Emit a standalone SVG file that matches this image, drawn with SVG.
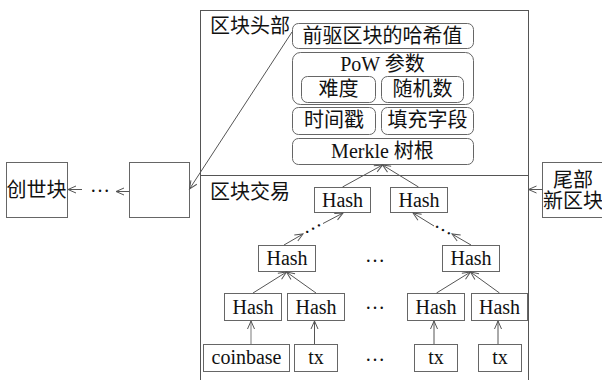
<svg xmlns="http://www.w3.org/2000/svg" width="602" height="380" viewBox="0 0 602 380">
<style>
text{font-family:"Liberation Serif","Noto Sans CJK SC",serif;font-size:20px;fill:#111;text-anchor:middle}
.l{text-anchor:start}
.box{fill:#fff;stroke:#666;stroke-width:1}
.rb{fill:#fff;stroke:#666;stroke-width:1}
.c{stroke:#555;stroke-width:1;fill:none}
.cg{stroke:#999;stroke-width:1.3;fill:none}
</style>
<defs>
<marker id="a" markerUnits="userSpaceOnUse" markerWidth="12" markerHeight="10" viewBox="-10 -5 12 10" refX="0" refY="0" orient="auto">
<path d="M-8,-3.5 L0,0 L-8,3.5" fill="none" stroke="#555" stroke-width="1"/>
</marker>
</defs>
<g id="block">
<rect x="200.5" y="10.5" width="328" height="380" fill="none" stroke="#555"/>
<line x1="200" y1="175.5" x2="528" y2="175.5" stroke="#555"/>
<text class="l" x="210" y="33">区块头部</text>
<text class="l" x="210" y="199">区块交易</text>
</g>
<g id="genesis">
<rect class="box" x="6.5" y="162.5" width="61" height="55"/>
<text x="36.5" y="197">创世块</text>
</g>
<g id="prev">
<rect class="box" x="129.5" y="162.5" width="60" height="55"/>
</g>
<g id="tail">
<rect class="box" x="542.5" y="162.5" width="62" height="55"/>
<text x="573" y="187">尾部</text>
<text x="573" y="208">新区块</text>
</g>
<g id="prevhash">
<rect class="rb" x="292.5" y="23.5" width="181" height="25" rx="6"/>
<text x="382.5" y="43">前驱区块的哈希值</text>
</g>
<g id="pow">
<rect class="rb" x="292.5" y="52.5" width="181" height="52" rx="8"/>
<text x="382.5" y="71">PoW 参数</text>
</g>
<g id="difficulty">
<rect class="rb" x="301.5" y="76.5" width="74" height="26" rx="6"/>
<text x="338.5" y="96">难度</text>
</g>
<g id="nonce">
<rect class="rb" x="381.5" y="76.5" width="82" height="26" rx="6"/>
<text x="422.5" y="96">随机数</text>
</g>
<g id="timestamp">
<rect class="rb" x="292.5" y="107.5" width="83" height="27" rx="6"/>
<text x="334" y="127">时间戳</text>
</g>
<g id="padding">
<rect class="rb" x="381.5" y="107.5" width="92" height="27" rx="6"/>
<text x="427.5" y="127">填充字段</text>
</g>
<g id="merkle">
<rect class="rb" x="292.5" y="138.5" width="181" height="26" rx="6"/>
<text x="382.5" y="158">Merkle 树根</text>
</g>
<g id="h1a"><rect class="box" x="314.5" y="187.5" width="56" height="25"/><text x="342.5" y="207">Hash</text></g>
<g id="h1b"><rect class="box" x="390.5" y="187.5" width="57" height="25"/><text x="419" y="207">Hash</text></g>
<g id="h2a"><rect class="box" x="258.5" y="245.5" width="57" height="26"/><text x="287" y="265">Hash</text></g>
<g id="h2b"><rect class="box" x="442.5" y="245.5" width="57" height="26"/><text x="471" y="265">Hash</text></g>
<g id="h3a"><rect class="box" x="224.5" y="293.5" width="57" height="27"/><text x="253" y="313.5">Hash</text></g>
<g id="h3b"><rect class="box" x="287.5" y="293.5" width="57" height="27"/><text x="316" y="313.5">Hash</text></g>
<g id="h3c"><rect class="box" x="407.5" y="293.5" width="57" height="27"/><text x="436" y="313.5">Hash</text></g>
<g id="h3d"><rect class="box" x="471.5" y="293.5" width="56" height="27"/><text x="499.5" y="313.5">Hash</text></g>
<g id="coinbase"><rect class="box" x="203.5" y="344.5" width="86" height="27"/><text x="246.5" y="364">coinbase</text></g>
<g id="tx1"><rect class="box" x="294.5" y="344.5" width="43" height="27"/><text x="316" y="364">tx</text></g>
<g id="tx2"><rect class="box" x="414.5" y="344.5" width="43" height="27"/><text x="436" y="364">tx</text></g>
<g id="tx3"><rect class="box" x="478.5" y="344.5" width="43" height="27"/><text x="500" y="364">tx</text></g>
<g id="dots">
<text x="100" y="192">…</text>
<text x="375" y="262">…</text>
<text x="375" y="309">…</text>
<text x="375" y="361">…</text>
<text x="0" y="1" transform="translate(313,228.5) rotate(-29)">…</text>
<text x="0" y="1" transform="translate(443,230) rotate(29)">…</text>
</g>
<g id="connectors">
<line class="c" x1="292" y1="32" x2="189.5" y2="189" marker-end="url(#a)"/>
<line class="c" x1="129.5" y1="191.5" x2="116" y2="191.5" marker-end="url(#a)"/>
<line class="c" x1="82" y1="189.5" x2="68" y2="189.5" marker-end="url(#a)"/>
<line class="c" x1="542.5" y1="189.5" x2="528.5" y2="189.5" marker-end="url(#a)"/>
<line class="c" x1="342.5" y1="187" x2="382.5" y2="165" marker-end="url(#a)"/>
<line class="c" x1="418.5" y1="187" x2="382.5" y2="165" marker-end="url(#a)"/>
<line class="c" x1="284" y1="245" x2="303" y2="234" marker-end="url(#a)"/>
<line class="c" x1="323" y1="223.5" x2="343" y2="213" marker-end="url(#a)"/>
<line class="c" x1="471" y1="245" x2="452" y2="234" marker-end="url(#a)"/>
<line class="c" x1="434" y1="226" x2="413" y2="213" marker-end="url(#a)"/>
<line class="c" x1="253" y1="293" x2="286.5" y2="272" marker-end="url(#a)"/>
<line class="c" x1="316" y1="293" x2="286.5" y2="272" marker-end="url(#a)"/>
<line class="c" x1="436.5" y1="293" x2="470.5" y2="272" marker-end="url(#a)"/>
<line class="c" x1="499.5" y1="293" x2="470.5" y2="272" marker-end="url(#a)"/>
<line class="cg" x1="251" y1="344" x2="251" y2="321" marker-end="url(#a)"/>
<line class="c" x1="314.5" y1="344" x2="314.5" y2="321" marker-end="url(#a)"/>
<line class="c" x1="434" y1="344" x2="434" y2="321" marker-end="url(#a)"/>
<line class="c" x1="498" y1="344" x2="498" y2="321" marker-end="url(#a)"/>
</g>
</svg>
